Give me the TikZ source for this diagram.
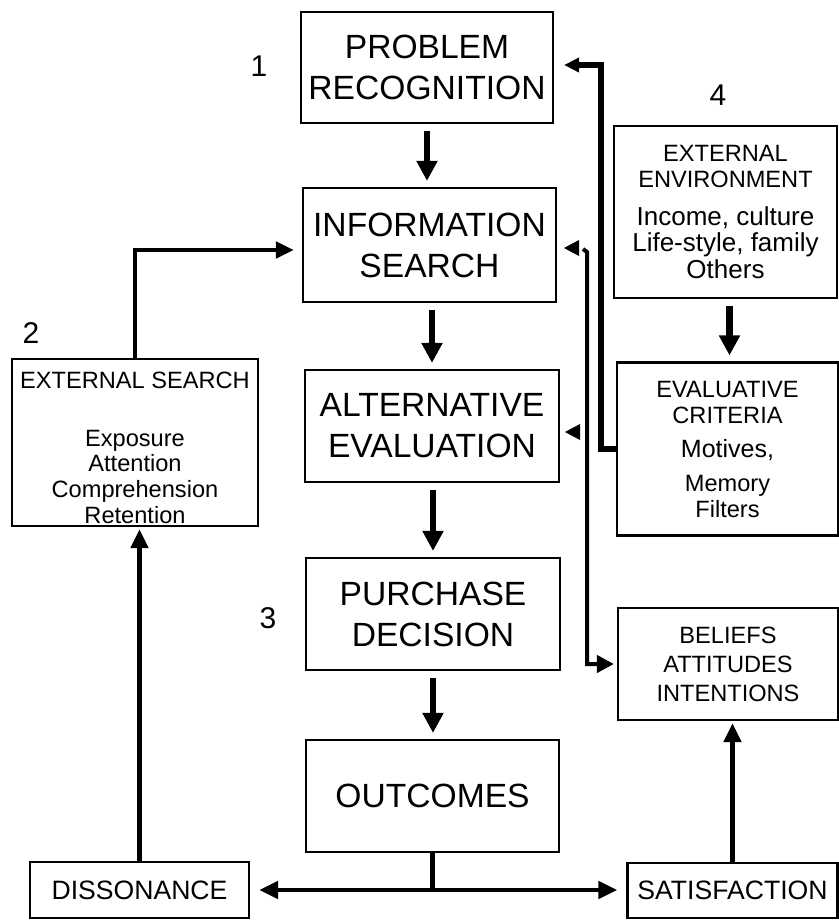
\documentclass[tikz,border=0pt]{standalone}
\usepackage{fontspec}
\setmainfont{Liberation Sans}
\usetikzlibrary{arrows.meta,calc}
\begin{document}
\begin{tikzpicture}[x=0.5pt,y=-0.5pt,
  box/.style={draw, line width=1.1pt, inner sep=0pt, align=center},
  big/.style={font=\fontsize{16.8}{20.5}\selectfont},
  small/.style={font=\fontsize{11.8}{13}\selectfont},
  mid/.style={font=\fontsize{13.3}{15}\selectfont},
  num/.style={font=\fontsize{15}{16}\selectfont, inner sep=0pt},
  arr/.style={line width=3.3pt, -{Triangle[length=10pt,width=10pt]}, shorten <=3.5pt, shorten >=3pt},
  fbarr/.style={line width=2.8pt, -{Triangle[length=7.5pt,width=7pt]}, shorten >=5pt},
  tlarr/.style={line width=2pt, -{Triangle[length=8.5pt,width=8.5pt]}, shorten >=1.5pt},
  esarr/.style={line width=2.4pt, -{Triangle[length=9pt,width=8pt]}, shorten >=4pt},
  barr/.style={line width=2.2pt, -{Triangle[length=9.5pt,width=8.5pt]}},
  bline/.style={line width=2.2pt}
]
\useasboundingbox (0,0) rectangle (839,923);

% main column
\node[box, big, minimum width=126pt,   minimum height=55.5pt] (pr)  at (427,67.5)  {PROBLEM\\RECOGNITION};
\node[box, big, minimum width=126.5pt, minimum height=57pt]   (is)  at (429.5,245) {INFORMATION\\SEARCH};
\node[box, big, minimum width=127pt,   minimum height=56pt]   (ae)  at (432,426)   {ALTERNATIVE\\EVALUATION};
\node[box, big, minimum width=127pt,   minimum height=56pt]   (pd)  at (433,614)   {PURCHASE\\DECISION};
\node[box, big, minimum width=126.5pt, minimum height=56pt]   (out) at (432.5,796) {OUTCOMES};

% left
\node[box, small, minimum width=123pt, minimum height=83.5pt] (es) at (135,442.5)
  {\mbox{}\\[0.5pt] EXTERNAL SEARCH\\[16pt] Exposure\\[-0.5pt] Attention\\ Comprehension\\ Retention};
\node[box, mid, minimum width=109.5pt, minimum height=28pt] (diss) at (139.5,890) {DISSONANCE};

% right
\node[box, small, minimum width=111.5pt, minimum height=86pt] (ee) at (725.5,212)
  {EXTERNAL\\ ENVIRONMENT\\[6pt] {\fontsize{13}{13.5}\selectfont Income, culture}\\[0.5pt] {\fontsize{13}{13.5}\selectfont Life-style, family}\\[0.5pt] {\fontsize{13}{13.5}\selectfont Others}};
\node[box, small, minimum width=110.5pt, minimum height=86.5pt] (ec) at (727.5,449)
  {EVALUATIVE\\ CRITERIA\\[4pt] {\fontsize{12.5}{13}\selectfont Motives,}\\[4pt] Memory\\ Filters};
\node[box, small, minimum width=110pt, minimum height=56pt, font=\fontsize{11.8}{14.5}\selectfont] (bai) at (728,664)
  {BELIEFS\\ ATTITUDES\\ INTENTIONS};
\node[box, mid, minimum width=105pt, minimum height=27.5pt] (sat) at (732.5,890.5) {SATISFACTION};

% numbers
\node[num] (n1) at (259,66)  {1};
\node[num] (n2) at (31,333)  {2};
\node[num] (n3) at (268,618) {3};
\node[num] (n4) at (718,95)  {4};

% main arrows
\draw[arr] (pr.south) -- (pr.south |- is.north);
\draw[arr] (ae.north |- is.south) -- (ae.north);
\draw[arr] (pd.north |- ae.south) -- (pd.north);
\draw[arr] (pd.south) -- (pd.south |- out.north);

% external search feedback
\draw[esarr] (es.north) |- ([yshift=-2.5pt]is.west);
\draw[barr, shorten >=1pt] (diss.north) -- (diss.north |- es.south);

% outcomes split
\coordinate (split) at (out.south |- diss.east);
\draw[bline] (out.south) -- (split);
\draw[barr, shorten >=4.5pt] (split) -- (diss.east);
\draw[barr, shorten >=4.5pt] (split) -- (split -| sat.west);
\draw[barr, shorten >=1pt] (sat.north) -- (sat.north |- bai.south);

% environment
\draw[arr] ([xshift=2pt]ee.south) -- ([xshift=2pt]ee.south |- ec.north);

% evaluative criteria -> problem recognition
\coordinate (fbtop) at (601,65);
\draw[fbarr] (ec.west) -- (ec.west -| fbtop) -- (fbtop) -- (fbtop -| pr.east);

% beliefs line
\coordinate (tl0) at (583,249);
\coordinate (tl1) at (587,252);
\draw[tlarr] (tl0) -- (tl1) |- (bai.west);

% detached arrowheads
\fill (564,248) -- (579,240) -- (579,256) -- cycle;
\fill (565,432) -- (580,424) -- (580,440) -- cycle;
\end{tikzpicture}
\end{document}
